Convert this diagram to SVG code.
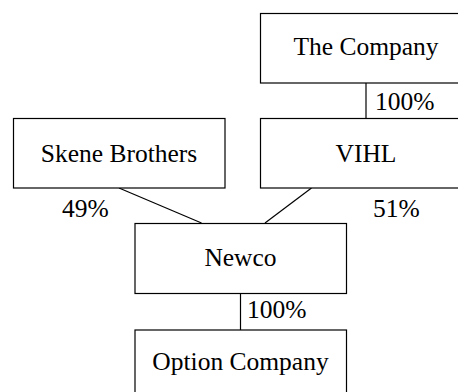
<svg xmlns="http://www.w3.org/2000/svg" width="458" height="392" viewBox="0 0 458 392">
<style>
.box{fill:#fff;stroke:#000;stroke-width:1.2}
.ln{stroke:#000;stroke-width:1.2;fill:none}
text{font-family:"Liberation Serif","Times New Roman",serif;font-size:25.5px;fill:#000}
.c{text-anchor:middle}
</style>
<rect width="458" height="392" fill="#fff"/>
<g id="connectors">
<line class="ln" x1="366" y1="83" x2="366" y2="118"/>
<line class="ln" x1="119" y1="188" x2="201.5" y2="223"/>
<line class="ln" x1="311.5" y1="188" x2="265" y2="223"/>
<line class="ln" x1="240.5" y1="294" x2="240.5" y2="330"/>
<text x="375" y="110">100%</text>
<text x="62" y="217">49%</text>
<text x="373" y="217">51%</text>
<text x="247" y="318">100%</text>
</g>
<g id="the-company">
<rect class="box" x="260.5" y="13.5" width="211" height="69.5"/>
<text class="c" x="366" y="55">The Company</text>
</g>
<g id="skene">
<rect class="box" x="13.5" y="118.5" width="211.5" height="69.5"/>
<text class="c" x="119" y="161.5">Skene Brothers</text>
</g>
<g id="vihl">
<rect class="box" x="260.5" y="118.5" width="211" height="69.5"/>
<text class="c" x="366" y="161.5">VIHL</text>
</g>
<g id="newco">
<rect class="box" x="135" y="223.5" width="211.5" height="70"/>
<text class="c" x="240.5" y="266">Newco</text>
</g>
<g id="option-company">
<rect class="box" x="135" y="330" width="211.5" height="70"/>
<text class="c" x="240.5" y="370">Option Company</text>
</g>
</svg>
